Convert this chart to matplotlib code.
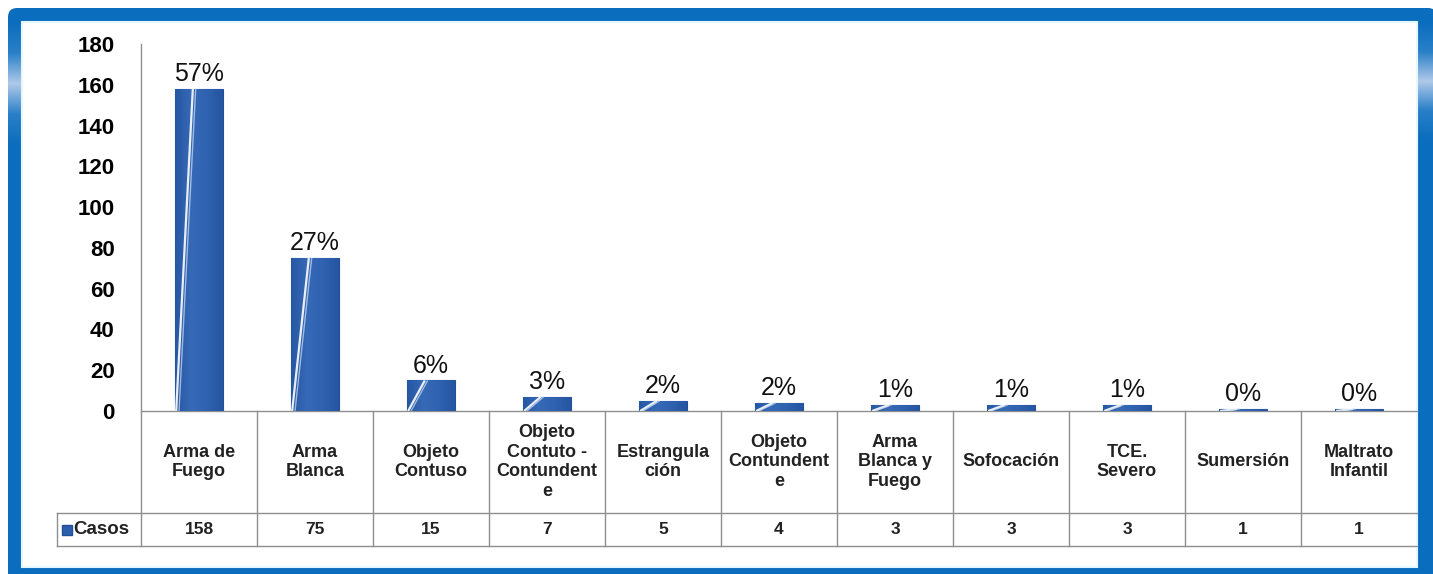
import matplotlib.pyplot as plt
import numpy as np
from matplotlib.patches import FancyBboxPatch, Rectangle
from matplotlib.colors import LinearSegmentedColormap
from matplotlib.lines import Line2D

categorias = ['Arma de\nFuego', 'Arma\nBlanca', 'Objeto\nContuso',
              'Objeto\nContuto -\nContundent\ne', 'Estrangula\nción',
              'Objeto\nContundent\ne', 'Arma\nBlanca y\nFuego', 'Sofocación',
              'TCE.\nSevero', 'Sumersión', 'Maltrato\nInfantil']
casos = [158, 75, 15, 7, 5, 4, 3, 3, 3, 1, 1]
porcentajes = ['57%', '27%', '6%', '3%', '2%', '2%', '1%', '1%', '1%', '0%', '0%']
serie = 'Casos'
yticks = [0, 20, 40, 60, 80, 100, 120, 140, 160, 180]

plt.rcParams['font.family'] = ['Liberation Sans', 'DejaVu Sans']

W, H = 1433, 574
fig = plt.figure(figsize=(W / 100, H / 100), dpi=100)

# marco azul
bg = fig.add_axes([0, 0, 1, 1], zorder=0)
bg.set_xlim(0, W)
bg.set_ylim(H, 0)
bg.axis('off')
azul = '#0b6dbd'
bg.add_patch(FancyBboxPatch((8, 8), W - 8 + 4, H + 20,
                            boxstyle='round,pad=0,rounding_size=9',
                            facecolor=azul, edgecolor='none'))
brillo = LinearSegmentedColormap.from_list('brillo', [azul, '#2a80c8', '#b0c9e8', '#2a80c8', azul])
grad = np.linspace(0, 1, 200).reshape(-1, 1)
bg.imshow(grad, cmap=brillo, extent=(8, 22, 145, 22), aspect='auto', zorder=1)
bg.imshow(grad, cmap=brillo, extent=(1417, W, 140, 22), aspect='auto', zorder=1)
bg.add_patch(Rectangle((22, 22), 1417 - 22, 567 - 22, facecolor='white',
                       edgecolor='#e6f8ff', lw=1.5, zorder=2))
bg.set_xlim(0, W)
bg.set_ylim(H, 0)

# grafico de barras
ax = fig.add_axes([141 / W, (H - 411) / H, (1417 - 141) / W, (411 - 44) / H], zorder=1)
ax.patch.set_visible(False)
x = np.arange(len(casos))
ancho = 0.41
barras = ax.bar(x, casos, width=ancho, color='#2c5fac', edgecolor='#234f97', lw=0.8, zorder=2)

relleno = LinearSegmentedColormap.from_list('relleno', ['#2757a3', '#3669b6', '#2f62b0', '#2655a0'])
hgrad = np.linspace(0, 1, 64).reshape(1, -1)
for b, pct in zip(barras, porcentajes):
    x0, w, h = b.get_x(), b.get_width(), b.get_height()
    im = ax.imshow(hgrad, cmap=relleno, extent=(x0, x0 + w, 0, h), aspect='auto', zorder=2.5)
    im.set_clip_path(b)
    # reflejo diagonal
    ax.plot([x0 + 0.02 * w, x0 + 0.37 * w], [0, h], color='white', lw=1.6, alpha=0.9,
            zorder=3, solid_capstyle='butt', clip_path=b)
    ax.plot([x0 + 0.08 * w, x0 + 0.43 * w], [0, h], color='#cfe0f5', lw=1.0, alpha=0.7,
            zorder=3, solid_capstyle='butt', clip_path=b)
    ax.annotate(pct, (x0 + w / 2, h), xytext=(0, 2), textcoords='offset points',
                ha='center', va='bottom', fontsize=18, color='#111111')

ax.set_xlim(-0.5, len(casos) - 0.5)
ax.set_ylim(0, 180)
ax.set_yticks(yticks)
ax.set_yticklabels([str(v) for v in yticks], fontsize=16, fontweight='bold')
ax.tick_params(axis='y', length=0, pad=19)
ax.set_xticks([])
for s in ax.spines.values():
    s.set_visible(False)

# tabla de datos
gris = '#8f8f8f'
tr = ax.get_xaxis_transform()
y_fila1 = -(513 - 411) / 367
y_fila2 = -(546 - 411) / 367
x_leyenda = -(141 - 57) / 1276

ax.add_line(Line2D([0, 0], [1, y_fila2], transform=ax.transAxes, color=gris, lw=1, clip_on=False))
ax.add_line(Line2D([0, 1], [0, 0], transform=ax.transAxes, color=gris, lw=1, clip_on=False))
for yy in (y_fila1, y_fila2):
    ax.add_line(Line2D([x_leyenda, 1], [yy, yy], transform=ax.transAxes, color=gris, lw=1, clip_on=False))
ax.add_line(Line2D([x_leyenda, x_leyenda], [y_fila1, y_fila2], transform=ax.transAxes,
                   color=gris, lw=1, clip_on=False))
for i in x[:-1]:
    ax.add_line(Line2D([i + 0.5, i + 0.5], [0, y_fila2], transform=tr, color=gris, lw=1, clip_on=False))

for i, (cat, v) in enumerate(zip(categorias, casos)):
    ax.text(i, y_fila1 / 2, cat, transform=tr, ha='center', va='center', fontsize=13,
            fontweight='bold', color='#222222', linespacing=1.2, clip_on=False)
    ax.text(i, (y_fila1 + y_fila2) / 2, str(v), transform=tr, ha='center', va='center',
            fontsize=12.5, fontweight='bold', color='#222222', clip_on=False)

ym = (y_fila1 + y_fila2) / 2
ax.plot([(67 - 141) / 1276], [ym], transform=ax.transAxes, marker='s', ms=7,
        color='#2c5fac', mec='#234f97', clip_on=False)
ax.text((73 - 141) / 1276, ym, serie, transform=ax.transAxes, ha='left', va='center',
        fontsize=13.5, fontweight='bold', color='#222222', clip_on=False)

plt.savefig('out.png', dpi=100)
